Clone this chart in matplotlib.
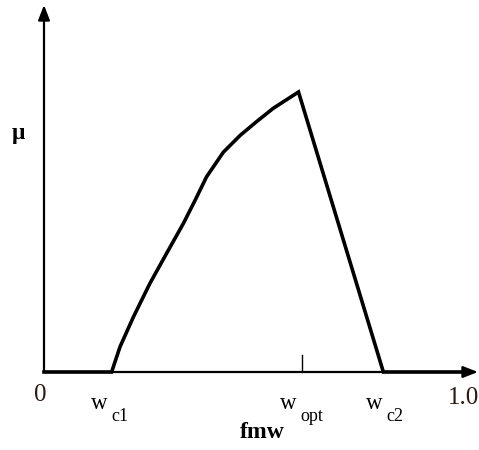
import matplotlib
matplotlib.use("Agg")
import matplotlib.pyplot as plt
from matplotlib.transforms import offset_copy

# membership curve (fmw vs mu)
fmw = [0.0, 0.161, 0.181, 0.213, 0.252, 0.292, 0.332, 0.360, 0.387, 0.427,
       0.467, 0.506, 0.546, 0.606, 0.808, 0.995]
mu = [0.0, 0.0, 0.090, 0.197, 0.316, 0.424, 0.531, 0.614, 0.697, 0.785,
      0.845, 0.894, 0.942, 1.0, 0.0, 0.0]

key_main = ['w', 'w', 'w']
key_sub = ['c1', 'opt', 'c2']
key_pos = [0.152, 0.602, 0.807]
end_labels = ['0', '1.0']
end_pos = [0.0, 1.0]

fig = plt.figure(figsize=(4.79, 4.50), dpi=100)
ax = fig.add_axes([0, 0, 1, 1])
# pixel mapping: x px = 44 + 420*x ; y px = 372 - 280*mu
ax.set_xlim(-44 / 420, 435 / 420)
ax.set_ylim(-78 / 280, 372 / 280)
ax.axis('off')

# axes with arrows
ax.annotate('', xy=(0, 367 / 280), xytext=(0, 0),
            arrowprops=dict(arrowstyle='-|>,head_length=0.9,head_width=0.35',
                            color='black', lw=1.6, shrinkA=0, shrinkB=0))
ax.annotate('', xy=(434 / 420, 0), xytext=(0, 0),
            arrowprops=dict(arrowstyle='-|>,head_length=0.9,head_width=0.35',
                            color='black', lw=1.6, shrinkA=0, shrinkB=0))

ax.plot(fmw, mu, color='black', lw=2.6, solid_joinstyle='miter', zorder=3)
# tick at w_opt
ax.plot([0.615, 0.615], [0, 17 / 280], color='black', lw=1.0)

serif = 'Liberation Serif'
ax.text(-0.01, -23 / 280, end_labels[0], family=serif,
        fontsize=18, ha='center', va='center', color='#2a1a10')
ax.text(0.962, -26 / 280, end_labels[1], family=serif,
        fontsize=18, ha='left', va='center', color='#2a1a10')

sub_tr = offset_copy(ax.transData, fig=fig, x=2.2, y=-8.6, units='points')
for m, s, p in zip(key_main, key_sub, key_pos):
    ax.text(p, -37 / 280, m, family=serif, fontsize=16.5, ha='right', va='baseline')
    ax.text(p, -37 / 280, s, family=serif, fontsize=13, ha='left', va='baseline',
            transform=sub_tr)

ax.text(0.52, -60 / 280, 'fmw', family=serif, fontweight='bold',
        fontsize=17, ha='center', va='center')
ax.text(-26 / 420, 238 / 280, 'μ', family=serif, fontweight='bold',
        fontsize=17, ha='center', va='center')

fig.savefig('out.png', dpi=100)
